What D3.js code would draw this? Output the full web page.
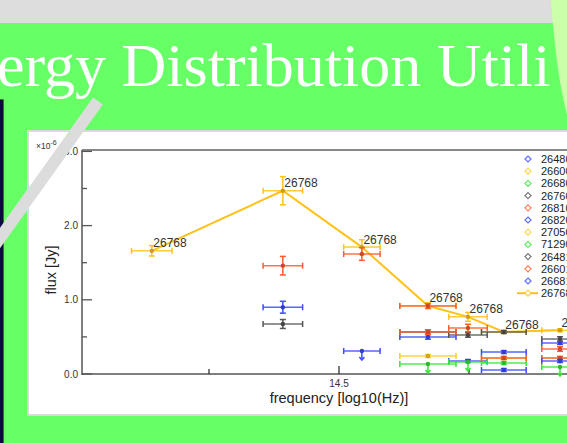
<!DOCTYPE html>
<html><head><meta charset="utf-8">
<script src="https://cdn.jsdelivr.net/npm/d3@7"></script>
<style>html,body{margin:0;padding:0;overflow:hidden;background:#66ff66}</style>
</head><body>
<svg id="c" width="567" height="443"></svg>
<script>
const titleText = "ergy Distribution Utili";
const xLabel = "frequency [log10(Hz)]";
const yLabel = "flux [Jy]";
const yMajorTicks = [0, 1, 2, 3];
const yMinorTicks = [0.5, 1.5, 2.5];
const xMajorTicks = [14.5];
const xMinorTicks = [14.25, 14.75];
const seriesNames = ["26480","26600","26680","26760","26810","26820","27050","71290","26481","26601","26681","26768"];
const palette = ["#3a4cff","#ffcc22","#33e633","#555555","#ff5a2a"];
// points: [log10 freq, flux (x1e-6 Jy), xerr, yerr, upperLimit]
const s26480 = [[14.392,0.90,0.038,0.08,0],[14.671,0.499,0.054,0.03,0],[14.817,0.296,0.043,0.02,0]];
const s26600 = [[14.671,0.243,0.054,0.02,0],[14.925,0.216,0.035,0.02,0]];
const s26680 = [[14.671,0.135,0.054,0,1],[14.817,0.148,0.043,0.02,0]];
const s26760 = [[14.392,0.674,0.038,0.06,0],[14.671,0.566,0.054,0.03,0],[14.817,0.566,0.043,0.02,0]];
const s26810 = [[14.392,1.46,0.038,0.125,0],[14.544,1.617,0.035,0.085,0],[14.671,0.916,0.054,0.03,0],[14.925,0.216,0.035,0.02,0]];
const s26820 = [[14.544,0.31,0.035,0,1],[14.748,0.175,0.037,0.02,0],[14.925,0.418,0.035,0.02,0]];
const s27050 = [[14.817,0.216,0.043,0.02,0]];
const s71290 = [[14.748,0.162,0.037,0,1],[14.925,0.094,0.035,0,1]];
const s26481 = [[14.748,0.526,0.037,0.03,0],[14.925,0.472,0.035,0.03,0]];
const s26601 = [[14.671,0.566,0.054,0.03,0],[14.748,0.62,0.037,0.05,0],[14.817,0.216,0.043,0.02,0],[14.925,0.337,0.035,0.03,0]];
const s26681 = [[14.817,0.054,0.043,0.02,0],[14.925,0.175,0.035,0.02,0]];
const s26768 = [[14.14,1.66,0.039,0.07,0],[14.392,2.47,0.038,0.19,0],[14.544,1.71,0.035,0.1,0],[14.671,0.92,0.054,0.04,0],[14.748,0.77,0.037,0.06,0],[14.817,0.566,0.043,0.02,0],[14.925,0.59,0.035,0.02,0]];
const seriesData = [s26480,s26600,s26680,s26760,s26810,s26820,s27050,s71290,s26481,s26601,s26681,s26768];

const svg = d3.select("#c");
const W = 567, H = 443;
const sans = "'Liberation Sans',Arial,sans-serif";
svg.append("rect").attr("x",0).attr("y",0).attr("width",W).attr("height",H).attr("fill","#66ff66");
svg.append("rect").attr("x",0).attr("y",0).attr("width",W).attr("height",23).attr("fill","#dddddd");
svg.append("text").attr("x",-3).attr("y",86).attr("fill","#ffffff")
  .attr("font-family","'Liberation Serif','DejaVu Serif',serif").attr("font-size",62).text(titleText);

svg.append("rect").attr("x",28).attr("y",131).attr("width",560).attr("height",284)
  .attr("fill","#ffffff").attr("stroke","#d9d9d9").attr("stroke-width",2);

const x = d3.scaleLinear().domain([14, 15]).range([79, 599]);
const y = d3.scaleLinear().domain([0, 3]).range([374, 151.4]);
const pLeft = 82, pBottom = 374, pTop = 150;

const g = svg.append("g");
g.append("line").attr("x1",pLeft).attr("x2",W).attr("y1",pTop).attr("y2",pTop).attr("stroke","#888").attr("stroke-width",2);
g.append("line").attr("x1",pLeft).attr("x2",pLeft).attr("y1",pTop).attr("y2",pBottom+1).attr("stroke","#555").attr("stroke-width",1.5);
g.append("line").attr("x1",pLeft).attr("x2",W).attr("y1",pBottom).attr("y2",pBottom).attr("stroke","#555").attr("stroke-width",1.5);
yMajorTicks.forEach(t=>{
  g.append("line").attr("x1",pLeft).attr("x2",pLeft+10).attr("y1",y(t)).attr("y2",y(t)).attr("stroke","#555").attr("stroke-width",1.3);
  g.append("text").attr("x",pLeft-4).attr("y",y(t)+3.5).attr("text-anchor","end")
   .attr("font-family",sans).attr("font-size",10).attr("fill","#333").text(t.toFixed(1));
});
yMinorTicks.forEach(t=>{
  g.append("line").attr("x1",pLeft).attr("x2",pLeft+5).attr("y1",y(t)).attr("y2",y(t)).attr("stroke","#555").attr("stroke-width",1.3);
});
xMajorTicks.forEach(t=>{
  g.append("line").attr("x1",x(t)).attr("x2",x(t)).attr("y1",pBottom).attr("y2",pBottom-8).attr("stroke","#333").attr("stroke-width",1.3);
  g.append("text").attr("x",x(t)).attr("y",pBottom+12.5).attr("text-anchor","middle")
   .attr("font-family",sans).attr("font-size",10).attr("fill","#333").text(t.toFixed(1));
});
xMinorTicks.forEach(t=>{
  g.append("line").attr("x1",x(t)).attr("x2",x(t)).attr("y1",pBottom).attr("y2",pBottom-5).attr("stroke","#333").attr("stroke-width",1.3);
});
const mt = g.append("text").attr("x",36).attr("y",149).attr("font-family",sans).attr("font-size",8.5).attr("fill","#333");
mt.append("tspan").text("×10");
mt.append("tspan").attr("dy",-4).attr("font-size",7).text("-6");
g.append("text").attr("x",339).attr("y",403).attr("text-anchor","middle")
  .attr("font-family",sans).attr("font-size",14.5).attr("fill","#222").text(xLabel);
g.append("text").attr("transform","translate(56,270) rotate(-90)").attr("text-anchor","middle")
  .attr("font-family",sans).attr("font-size",14.5).attr("fill","#222").text(yLabel);

const plot = svg.append("g");
function drawPoints(data, color) {
  const gg = plot.append("g").attr("stroke",color).attr("stroke-width",1.5);
  data.forEach(d=>{
    const px = x(d[0]), py = y(d[1]);
    const x0 = x(d[0]-d[2]), x1 = x(d[0]+d[2]);
    gg.append("line").attr("x1",x0).attr("x2",x1).attr("y1",py).attr("y2",py).attr("stroke-opacity",0.85);
    gg.append("line").attr("x1",x0).attr("x2",x0).attr("y1",py-3).attr("y2",py+3);
    gg.append("line").attr("x1",x1).attr("x2",x1).attr("y1",py-3).attr("y2",py+3);
    if (d[4]) {
      gg.append("line").attr("x1",px).attr("x2",px).attr("y1",py).attr("y2",py+9);
      gg.append("path").attr("d",`M${px-2.5},${py+6}L${px},${py+9}L${px+2.5},${py+6}`).attr("fill","none");
    } else if (d[3] > 0) {
      const y0 = y(d[1]-d[3]), y1 = y(d[1]+d[3]);
      gg.append("line").attr("x1",px).attr("x2",px).attr("y1",y0).attr("y2",y1);
      gg.append("line").attr("x1",px-3).attr("x2",px+3).attr("y1",y0).attr("y2",y0);
      gg.append("line").attr("x1",px-3).attr("x2",px+3).attr("y1",y1).attr("y2",y1);
    }
    gg.append("circle").attr("cx",px).attr("cy",py).attr("r",2.2).attr("fill",d3.color(color).darker(0.6)).attr("stroke","none");
  });
}
const lineCol = "#ffc21a";
plot.append("path").datum(s26768).attr("fill","none").attr("stroke",lineCol).attr("stroke-width",2)
  .attr("d", d3.line().x(d=>x(d[0])).y(d=>y(d[1])));
drawPoints(s26768, lineCol);
seriesData.forEach((s,i)=>{ if (i < 11) drawPoints(s, palette[i%5]); });
s26768.forEach(d=>{
  plot.append("text").attr("x",x(d[0])+1.5).attr("y",y(d[1])-3.5)
    .attr("font-family",sans).attr("font-size",12).attr("fill","#333").text("26768");
});

const lg = svg.append("g");
seriesNames.forEach((n,i)=>{
  const ly = 159 + i*12.2;
  const col = i === 11 ? lineCol : palette[i%5];
  if (i === 11) {
    lg.append("line").attr("x1",517).attr("x2",538).attr("y1",ly).attr("y2",ly).attr("stroke",lineCol).attr("stroke-width",2);
  }
  lg.append("path").attr("d",`M528,${ly-3}L531,${ly}L528,${ly+3}L525,${ly}Z`).attr("fill","#fff").attr("stroke",col).attr("stroke-width",1.2).attr("stroke-opacity",0.8);
  lg.append("text").attr("x",541).attr("y",ly+4).attr("font-family",sans)
    .attr("font-size",11).attr("fill","#222").text(n);
});

svg.append("rect").attr("x",-3).attr("y",100).attr("width",6).attr("height",360).attr("fill","#0a0a4a").attr("stroke","#111").attr("stroke-width",1.2);
svg.append("line").attr("x1",98).attr("y1",101).attr("x2",-40).attr("y2",294).attr("stroke","#dcdcdc").attr("stroke-width",12);
svg.append("path").attr("d","M551,0 C554,40 558,80 567,115 L567,0 Z").attr("fill","#ccffaa");
</script>
</body></html>
